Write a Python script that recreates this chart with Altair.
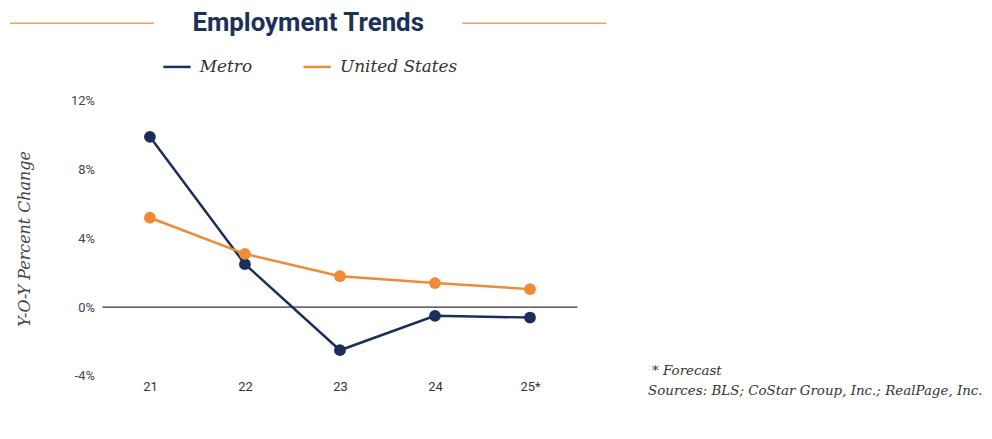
import altair as alt
import pandas as pd

years = ["21", "22", "23", "24", "25*"]
metro = [9.9, 2.5, -2.5, -0.5, -0.6]
us = [5.2, 3.1, 1.8, 1.4, 1.05]
series_names = ["Metro", "United States"]
colors = ["#1b2d5b", "#f08a35"]
title_text = "Employment Trends"
y_title = "Y-O-Y Percent Change"
y_ticks = [-4, 0, 4, 8, 12]
notes = ["* Forecast", "Sources: BLS; CoStar Group, Inc.; RealPage, Inc."]

rows = []
for i, yr in enumerate(years):
    rows.append({"year": yr, "series": series_names[0], "value": metro[i], "order": i})
    rows.append({"year": yr, "series": series_names[1], "value": us[i], "order": i})
df = pd.DataFrame(rows)

W, H = 478, 277

x = alt.X("year:N", sort=years, title=None,
          scale=alt.Scale(type="point", padding=0.5),
          axis=alt.Axis(labelAngle=0, domain=False, ticks=False, labelPadding=5,
                        labelFont="Roboto", labelFontSize=13, labelColor="#333"))
y = alt.Y("value:Q", title=y_title,
          scale=alt.Scale(domain=[-4, 12], nice=False, zero=False),
          axis=alt.Axis(values=y_ticks, labelExpr="datum.value + '%'", domain=False,
                        ticks=False, grid=False, labelPadding=8, labelFont="Roboto",
                        labelFontSize=13, labelColor="#444", titleFont="DejaVu Serif",
                        titleFontStyle="italic", titleFontWeight="normal",
                        titleFontSize=16, titleColor="#444", titlePadding=38))
color = alt.Color("series:N", scale=alt.Scale(domain=series_names, range=colors),
                  legend=alt.Legend(title=None, orient="none", legendX=60, legendY=-49,
                                    direction="horizontal", symbolType="stroke",
                                    symbolSize=750, symbolStrokeWidth=2.5,
                                    labelFont="DejaVu Serif", labelFontStyle="italic",
                                    labelFontSize=17, labelColor="#333",
                                    columnPadding=46, labelOffset=8))

base = alt.Chart(df)
lines = base.mark_line(strokeWidth=2.5).encode(x=x, y=y, color=color, order="order:Q")
pts = base.mark_circle(size=140, opacity=1).encode(x=x, y=y, color=alt.Color("series:N", scale=alt.Scale(domain=series_names, range=colors), legend=None))

zero = alt.Chart(pd.DataFrame({"v": [0]})).mark_rule(color="#333", strokeWidth=1.2).encode(
    y=alt.Y("v:Q", scale=alt.Scale(domain=[-4, 12], nice=False, zero=False)))

title = alt.Chart(pd.DataFrame({"t": [title_text]})).mark_text(
    font="Roboto", fontWeight="bold", fontSize=26, color="#1c3157",
    align="center", baseline="middle").encode(
    text="t:N", x=alt.value(207), y=alt.value(-78))

rule_l = alt.Chart(pd.DataFrame({"a": [0]})).mark_rule(color="#f0a060", strokeWidth=1.5).encode(
    x=alt.value(-93), x2=alt.value(52), y=alt.value(-78))
rule_r = alt.Chart(pd.DataFrame({"a": [0]})).mark_rule(color="#f0a060", strokeWidth=1.5).encode(
    x=alt.value(362), x2=alt.value(507), y=alt.value(-78))

note1 = alt.Chart(pd.DataFrame({"t": [notes[0]]})).mark_text(
    font="DejaVu Serif", fontStyle="italic", fontSize=13.5, color="#333",
    align="left", baseline="middle").encode(text="t:N", x=alt.value(553), y=alt.value(272))
note2 = alt.Chart(pd.DataFrame({"t": [notes[1]]})).mark_text(
    font="DejaVu Serif", fontStyle="italic", fontSize=13.5, color="#333",
    align="left", baseline="middle").encode(text="t:N", x=alt.value(549), y=alt.value(292))

chart = alt.layer(zero, lines, pts, title, rule_l, rule_r, note1, note2).properties(
    width=W, height=H,
    autosize=alt.AutoSizeParams(type="none"),
    padding={"left": 95, "top": 92, "right": 409, "bottom": 50},
).configure_view(stroke=None)

chart.save("out.html", embed_options={"renderer": "svg", "actions": False})
